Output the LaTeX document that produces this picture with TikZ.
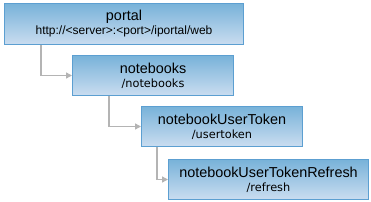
\documentclass[tikz,border=0pt]{standalone}
\usepackage{fontspec}
\setmainfont{Liberation Sans}
\newfontfamily\pathfamily{DejaVu Sans}
\usetikzlibrary{arrows.meta}

\definecolor{boxtop}{HTML}{78B2D9}
\definecolor{boxbottom}{HTML}{CADDF0}
\definecolor{boxline}{HTML}{5C9FD1}
\definecolor{linkgray}{HTML}{B4B4B4}

\newcommand{\pathtext}[1]{{\pathfamily\fontsize{8.5}{10.5}\selectfont #1}}

\begin{document}
\begin{tikzpicture}[
    x=0.75pt, y=-0.75pt,
    resource/.style={draw=boxline, line width=0.75pt, top color=boxtop, bottom color=boxbottom,
        anchor=north west, inner sep=0pt, minimum height=30pt, align=center,
        font=\fontsize{10.8}{10.5}\selectfont},
    link/.style={draw=linkgray, line width=1.1pt, -{Triangle[length=4.5pt, width=4.5pt]}}
]
    \useasboundingbox (0,0) rectangle (371,202);

    % Resource boxes
    \node[resource, minimum width=179.25pt, minimum height=30.75pt] (portal) at (4,3)
        {portal\\{\fontsize{9}{10.5}\selectfont http://<server>:<port>/iportal/web}};
    \node[resource, minimum width=120.75pt] (notebooks) at (72,55)
        {notebooks\\\pathtext{/notebooks}};
    \node[resource, minimum width=120.75pt] (usertoken) at (141,106)
        {notebookUserToken\\\pathtext{/usertoken}};
    \node[resource, minimum width=150pt] (refresh) at (168,159)
        {notebookUserTokenRefresh\\\pathtext{/refresh}};

    % Links from parent to child
    \foreach \parent/\child/\offset in {portal/notebooks/27.75pt, notebooks/usertoken/27.75pt, usertoken/refresh/12pt} {
        \draw[link] ([xshift=\offset]\parent.south west) |- (\child.west);
    }

\end{tikzpicture}
\end{document}
